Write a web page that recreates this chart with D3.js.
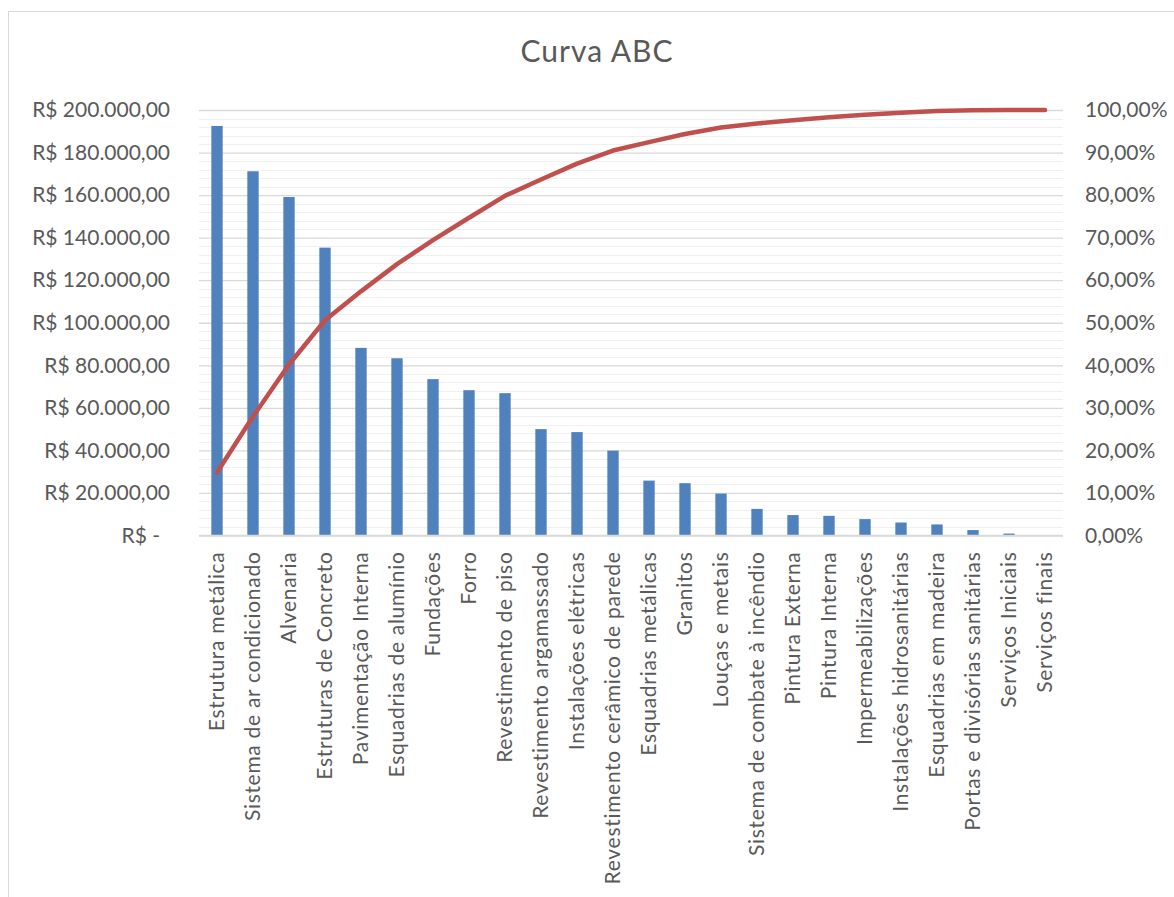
<!DOCTYPE html>
<html lang="pt-BR">

<head>
  <meta charset="UTF-8">
  <title>Curva ABC</title>
  <script src="https://cdn.jsdelivr.net/npm/d3@7"></script>
  <style>
    body { margin: 0; padding: 0; background: #fff; }
  </style>
</head>

<body>
  <div id="svg-root"></div>
  <script>
    // categorias (eixo x)
    const categories = [
      'Estrutura metálica', 'Sistema de ar condicionado', 'Alvenaria', 'Estruturas de Concreto',
      'Pavimentação Interna', 'Esquadrias de alumínio', 'Fundações', 'Forro',
      'Revestimento de piso', 'Revestimento argamassado', 'Instalações elétricas',
      'Revestimento cerâmico de parede', 'Esquadrias metálicas', 'Granitos', 'Louças e metais',
      'Sistema de combate à incêndio', 'Pintura Externa', 'Pintura Interna', 'Impermeabilizações',
      'Instalações hidrosanitárias', 'Esquadrias em madeira', 'Portas e divisórias sanitárias',
      'Serviços Iniciais', 'Serviços finais'
    ];
    // custo de cada item (R$) - barras
    const costs = [
      192500, 171200, 159100, 135300, 88200, 83300, 73500, 68300,
      66900, 50000, 48600, 39900, 25800, 24600, 19700, 12500,
      9600, 9250, 7700, 6100, 5200, 2550, 900, 0
    ];
    // percentual acumulado - linha
    const cumulative = [
      0.1480, 0.2796, 0.4019, 0.5059, 0.5738, 0.6378, 0.6943, 0.7468,
      0.7982, 0.8367, 0.8741, 0.9047, 0.9246, 0.9435, 0.9587, 0.9683,
      0.9757, 0.9828, 0.9887, 0.9934, 0.9974, 0.9993, 1.0, 1.0
    ];
    // ticks dos eixos
    const leftTicks = [0, 20000, 40000, 60000, 80000, 100000, 120000, 140000, 160000, 180000, 200000];
    const rightTicks = [0, 0.1, 0.2, 0.3, 0.4, 0.5, 0.6, 0.7, 0.8, 0.9, 1.0];

    const W = 1174, H = 897;
    const plot = { left: 199, right: 1063, top: 110, bottom: 535.5 };
    const fontFamily = 'Lato, "Open Sans", sans-serif';
    const textColor = '#595959';
    const axisFont = '21px';

    const br = d3.formatLocale({ decimal: ',', thousands: '.', grouping: [3], currency: ['R$ ', ''] });
    const money = v => v === 0 ? 'R$ -' : 'R$ ' + br.format(',.2f')(v);
    const pct = br.format('.2%');

    const svg = d3.create('svg')
      .attr('width', W)
      .attr('height', H)
      .style('font-family', fontFamily)
      .style('background', '#fff');

    // borda da área do gráfico (sai fora da imagem à direita/baixo)
    svg.append('rect')
      .attr('x', 8.5).attr('y', 11.5)
      .attr('width', W + 20).attr('height', H + 20)
      .attr('fill', 'none')
      .attr('stroke', '#D9D9D9')
      .attr('stroke-width', 1);

    // escalas
    const xScale = d3.scaleBand()
      .domain(categories)
      .range([plot.left, plot.right])
      .paddingInner(0.685)
      .paddingOuter(0.3425);

    const yScale = d3.scaleLinear()
      .domain([0, 200000])
      .range([plot.bottom, plot.top]);

    const pScale = d3.scaleLinear()
      .domain([0, 1])
      .range([plot.bottom, plot.top]);

    // linhas de grade secundárias (a cada 4.000)
    svg.append('g')
      .selectAll('line')
      .data(d3.range(0, 200001, 4000).filter(v => v % 20000 !== 0))
      .join('line')
      .attr('x1', plot.left).attr('x2', plot.right)
      .attr('y1', d => Math.round(yScale(d)) + 0.5)
      .attr('y2', d => Math.round(yScale(d)) + 0.5)
      .attr('stroke', '#F0F0F0')
      .attr('stroke-width', 1);

    // linhas de grade principais
    svg.append('g')
      .call(d3.axisLeft(yScale).tickValues(leftTicks).tickSize(-(plot.right - plot.left)).tickFormat(''))
      .attr('transform', `translate(${plot.left},0)`)
      .call(g => g.select('.domain').remove())
      .call(g => g.selectAll('line').attr('stroke', '#D9D9D9').attr('stroke-width', 1.3));

    // eixo esquerdo (R$)
    svg.append('g')
      .attr('transform', `translate(${plot.left},0)`)
      .call(d3.axisLeft(yScale).tickValues(leftTicks).tickSize(0).tickPadding(29).tickFormat(money))
      .call(g => g.select('.domain').remove())
      .call(g => g.selectAll('text')
        .attr('fill', textColor)
        .style('font-size', axisFont)
        .style('font-family', fontFamily)
        .attr('dx', d => d === 0 ? -10 : 0));

    // eixo direito (%)
    svg.append('g')
      .attr('transform', `translate(${plot.right},0)`)
      .call(d3.axisRight(pScale).tickValues(rightTicks).tickSize(0).tickPadding(22).tickFormat(pct))
      .call(g => g.select('.domain').remove())
      .call(g => g.selectAll('text')
        .attr('fill', textColor)
        .style('font-size', axisFont)
        .style('font-family', fontFamily));

    // barras
    svg.append('g')
      .selectAll('rect')
      .data(costs)
      .join('rect')
      .attr('x', (d, i) => xScale(categories[i]))
      .attr('y', d => yScale(d))
      .attr('width', xScale.bandwidth())
      .attr('height', d => plot.bottom - yScale(d))
      .attr('fill', '#4F81BD');

    // eixo x (linha + rótulos girados)
    const xAxis = svg.append('g')
      .attr('transform', `translate(0,${plot.bottom})`)
      .call(d3.axisBottom(xScale).tickSize(0).tickPadding(0));
    xAxis.select('.domain')
      .attr('stroke', '#D9D9D9')
      .attr('stroke-width', 1.3)
      .attr('d', `M${plot.left},0H${plot.right}`);
    xAxis.selectAll('text')
      .attr('fill', textColor)
      .style('font-size', axisFont)
      .style('font-family', fontFamily)
      .style('letter-spacing', '0.7px')
      .attr('text-anchor', 'end')
      .attr('dy', '0.35em')
      .attr('transform', 'translate(0,16) rotate(-90)')
      .attr('x', 0)
      .attr('y', 0);

    // linha do acumulado
    const line = d3.line()
      .x((d, i) => xScale(categories[i]) + xScale.bandwidth() / 2)
      .y(d => pScale(d));

    svg.append('path')
      .datum(cumulative)
      .attr('d', line)
      .attr('fill', 'none')
      .attr('stroke', '#C0504D')
      .attr('stroke-width', 4.5)
      .attr('stroke-linejoin', 'round')
      .attr('stroke-linecap', 'round');

    // título
    svg.append('text')
      .attr('x', 597)
      .attr('y', 62)
      .attr('text-anchor', 'middle')
      .attr('fill', textColor)
      .style('font-size', '30px')
      .style('letter-spacing', '1px')
      .text('Curva ABC');

    document.getElementById('svg-root').append(svg.node());
  </script>
</body>

</html>
